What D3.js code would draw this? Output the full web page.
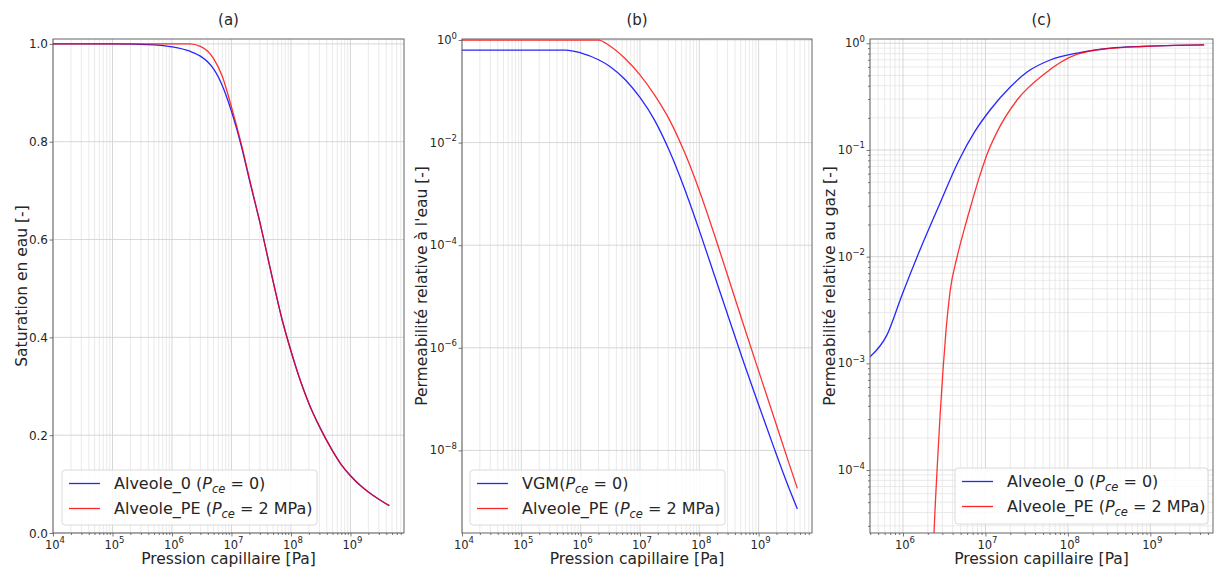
<!DOCTYPE html>
<html><head><meta charset="utf-8">
<script src="https://cdn.jsdelivr.net/npm/d3@7"></script>
<style>
body{margin:0;background:#fff}
svg{display:block}
text{font-family:"DejaVu Sans",sans-serif;fill:#262626}
</style>
</head><body>
<svg id="chart" width="1220" height="568"></svg>
<script>
// ---------------- DATA ----------------
// Panel (a): water saturation vs capillary pressure
const pressureA = [1e4, 1e5, 5e5, 1e6, 2e6, 3e6, 4e6, 5e6, 7e6, 1e7, 1.5e7, 2e7, 3e7, 5e7, 7e7, 1e8, 1.5e8, 2e8, 3e8, 5e8, 7e8, 1e9, 1.5e9, 2e9, 3e9, 4.5e9];
const satAlveole0 = [1.000, 1.000, 0.998, 0.994, 0.985, 0.975, 0.963, 0.949, 0.915, 0.862, 0.786, 0.722, 0.635, 0.515, 0.439, 0.372, 0.305, 0.265, 0.218, 0.168, 0.140, 0.117, 0.096, 0.084, 0.069, 0.056];
const satAlveolePE = [1.000, 1.000, 1.000, 1.000, 1.000, 0.995, 0.985, 0.970, 0.934, 0.871, 0.790, 0.725, 0.636, 0.515, 0.439, 0.372, 0.305, 0.265, 0.218, 0.168, 0.140, 0.117, 0.096, 0.084, 0.069, 0.056];

// Panel (b): relative permeability to water
const pressureB = [1e4, 1e5, 5.6e5, 1e6, 2e6, 3.16e6, 5.6e6, 1e7, 1.78e7, 3.16e7, 5.6e7, 1e8, 1.78e8, 3.16e8, 5.6e8, 1e9, 1.78e9, 3.16e9, 4.5e9];
const krwVGM = [0.638, 0.638, 0.638, 0.562, 0.412, 0.302, 0.170, 0.0759, 0.0269, 6.76e-3, 1.29e-3, 1.95e-4, 2.69e-5, 3.72e-6, 5.25e-7, 7.76e-8, 1.20e-8, 2.0e-9, 7.24e-10];
const krwAlveolePE = [1, 1, 1, 1, 1, 0.759, 0.437, 0.209, 0.0832, 0.0275, 6.61e-3, 1.17e-3, 1.66e-4, 2.14e-5, 2.75e-6, 3.55e-7, 4.68e-8, 6.17e-9, 1.82e-9];

// Panel (c): relative permeability to gas
const pressureC0 = [3.98e5, 6.4e5, 9.73e5, 1.61e6, 2.82e6, 4.66e6, 7.48e6, 1.14e7, 2.0e7, 3.2e7, 6.1e7, 1.3e8, 3.26e8, 8.2e8, 2e9, 4.5e9];
const krgAlveole0 = [1.15e-3, 1.85e-3, 4.38e-3, 1.16e-2, 3.18e-2, 7.72e-2, 0.150, 0.237, 0.389, 0.538, 0.697, 0.810, 0.900, 0.935, 0.955, 0.965];
const pressureCPE = [2.1e6, 2.38e6, 2.59e6, 2.82e6, 3.06e6, 3.33e6, 3.72e6, 4.53e6, 5.51e6, 6.70e6, 8.38e6, 1.05e7, 1.38e7, 2.42e7, 5.0e7, 1.3e8, 3.26e8, 8.2e8, 2e9, 4.5e9];
const krgAlveolePE = [1e-6, 2.57e-5, 1.0e-4, 3.29e-4, 8.7e-4, 2.06e-3, 4.68e-3, 9.93e-3, 1.78e-2, 3.05e-2, 5.47e-2, 9.18e-2, 0.147, 0.294, 0.505, 0.790, 0.895, 0.933, 0.955, 0.965];

// Tick labels
const xTickExpAB = [4, 5, 6, 7, 8, 9];
const xTickExpC = [6, 7, 8, 9];
const satTicks = [0.0, 0.2, 0.4, 0.6, 0.8, 1.0];
const krwTickExp = [0, -2, -4, -6, -8];
const krgTickExp = [0, -1, -2, -3, -4];

// Texts
const titles = ["(a)", "(b)", "(c)"];
const xLabel = "Pression capillaire [Pa]";
const yLabels = ["Saturation en eau [-]", "Permeabilité relative à l'eau [-]", "Permeabilité relative au gaz [-]"];

// ---------------- LAYOUT ----------------
const TOP = 39, BOTTOM = 533;
const BLUE = "#0000ff", RED = "#ff0000";
const svg = d3.select("#chart");

function minorLog(domain) {
  const out = [];
  const e0 = Math.floor(Math.log10(domain[0])), e1 = Math.ceil(Math.log10(domain[1]));
  for (let e = e0; e <= e1; e++) for (let m = 1; m <= 9; m++) {
    const v = m * Math.pow(10, e);
    if (v >= domain[0] && v <= domain[1]) out.push(v);
  }
  return out;
}

function powText(sel, exp) {
  sel.append("tspan").text("10");
  sel.append("tspan").attr("dy", -5.5).attr("font-size", 8.5).text(exp < 0 ? "\u2212" + (-exp) : String(exp));
}

function legendText(t, prefix, value) {
  t.append("tspan").text(prefix);
  t.append("tspan").attr("font-style", "italic").text("P");
  t.append("tspan").attr("font-style", "italic").attr("font-size", 11.5).attr("dy", 4).text("ce");
  t.append("tspan").attr("dy", -4).text(" = " + value + ")");
}

const panels = [
  {left: 53, right: 404, xDomain: [1e4, Math.pow(10, 9.9)], xTicks: xTickExpAB,
   yLog: false, yDomain: [0, 1.01], yTicks: satTicks, yMinor: false, yLabelX: 21,
   series: [{x: pressureA, y: satAlveole0, color: BLUE}, {x: pressureA, y: satAlveolePE, color: RED}],
   legend: {x: 62, y: 470, w: 255, h: 55, items: [["Alveole_0 (", "0"], ["Alveole_PE (", "2 MPa"]]}},
  {left: 462, right: 812, xDomain: [1e4, Math.pow(10, 9.9)], xTicks: xTickExpAB,
   yLog: true, yDomain: [Math.pow(10, -9.61), Math.pow(10, 0.02)], yTicks: krwTickExp, yMinor: false, yLabelX: 421,
   series: [{x: pressureB, y: krwVGM, color: BLUE}, {x: pressureB, y: krwAlveolePE, color: RED}],
   legend: {x: 470, y: 470, w: 255, h: 55, items: [["VGM(", "0"], ["Alveole_PE (", "2 MPa"]]}},
  {left: 870, right: 1213, xDomain: [Math.pow(10, 5.6), Math.pow(10, 9.76)], xTicks: xTickExpC,
   yLog: true, yDomain: [Math.pow(10, -4.59), Math.pow(10, 0.04)], yTicks: krgTickExp, yMinor: true, yLabelX: 829,
   series: [{x: pressureC0, y: krgAlveole0, color: BLUE}, {x: pressureCPE, y: krgAlveolePE, color: RED}],
   legend: {x: 955, y: 468, w: 253, h: 56, items: [["Alveole_0 (", "0"], ["Alveole_PE (", "2 MPa"]]}}
];

panels.forEach((p, i) => {
  const g = svg.append("g");
  const x = d3.scaleLog().domain(p.xDomain).range([p.left, p.right]);
  const y = (p.yLog ? d3.scaleLog() : d3.scaleLinear()).domain(p.yDomain).range([BOTTOM, TOP]);
  const isDecade = v => Math.abs(Math.log10(v) - Math.round(Math.log10(v))) < 1e-9;
  const xMinor = minorLog(p.xDomain).filter(v => !isDecade(v));
  const xDecades = minorLog(p.xDomain).filter(isDecade);
  const yMajor = p.yLog ? p.yTicks.map(e => Math.pow(10, e)) : p.yTicks;
  const yMinor = p.yMinor ? minorLog(p.yDomain).filter(v => !isDecade(v)) : [];

  // grid
  const grid = g.append("g");
  grid.selectAll(".xm").data(xMinor).join("line")
    .attr("x1", d => x(d)).attr("x2", d => x(d)).attr("y1", TOP).attr("y2", BOTTOM)
    .attr("stroke", "#e4e4e4").attr("stroke-width", 0.8);
  grid.selectAll(".ym").data(yMinor).join("line")
    .attr("x1", p.left).attr("x2", p.right).attr("y1", d => y(d)).attr("y2", d => y(d))
    .attr("stroke", "#e4e4e4").attr("stroke-width", 0.8);
  grid.selectAll(".xM").data(xDecades).join("line")
    .attr("x1", d => x(d)).attr("x2", d => x(d)).attr("y1", TOP).attr("y2", BOTTOM)
    .attr("stroke", "#d2d2d2").attr("stroke-width", 0.9);
  grid.selectAll(".yM").data(yMajor).join("line")
    .attr("x1", p.left).attr("x2", p.right).attr("y1", d => y(d)).attr("y2", d => y(d))
    .attr("stroke", "#d2d2d2").attr("stroke-width", 0.9);

  // clip
  const cid = "clip" + i;
  svg.append("defs").append("clipPath").attr("id", cid).append("rect")
    .attr("x", p.left).attr("y", TOP).attr("width", p.right - p.left).attr("height", BOTTOM - TOP);

  // lines
  const line = d3.line().curve(d3.curveMonotoneX);
  p.series.forEach(s => {
    const pts = s.x.map((xv, k) => [x(xv), y(s.y[k])]);
    g.append("path").attr("clip-path", `url(#${cid})`).attr("d", line(pts))
      .attr("fill", "none").attr("stroke", s.color).attr("stroke-width", 1.3)
      .attr("stroke-opacity", s.color === RED ? 0.8 : 0.85);
  });

  // frame
  g.append("rect").attr("x", p.left).attr("y", TOP).attr("width", p.right - p.left).attr("height", BOTTOM - TOP)
    .attr("fill", "none").attr("stroke", "#555").attr("stroke-width", 0.9);

  // x axis ticks
  const xAxisMinor = d3.axisBottom(x).tickValues(xMinor).tickSize(2).tickFormat("");
  const xAxisMajor = d3.axisBottom(x).tickValues(xDecades).tickSize(3.5).tickFormat("");
  [xAxisMinor, xAxisMajor].forEach(ax => {
    const a = g.append("g").attr("transform", `translate(0,${BOTTOM})`).call(ax);
    a.select(".domain").remove();
    a.selectAll("line").attr("stroke", "#555").attr("stroke-width", 0.8);
  });
  g.selectAll(".xtl").data(p.xTicks).join("text")
    .attr("x", d => x(Math.pow(10, d)) + 2).attr("y", BOTTOM + 15.5).attr("text-anchor", "middle").attr("font-size", 11.5)
    .each(function(d) { powText(d3.select(this), d); });

  // y axis ticks
  if (p.yMinor) {
    const ayM = g.append("g").attr("transform", `translate(${p.left},0)`).call(d3.axisLeft(y).tickValues(yMinor).tickSize(2).tickFormat(""));
    ayM.select(".domain").remove();
    ayM.selectAll("line").attr("stroke", "#555").attr("stroke-width", 0.8);
  }
  const ay = g.append("g").attr("transform", `translate(${p.left},0)`).call(d3.axisLeft(y).tickValues(yMajor).tickSize(3.5).tickFormat(""));
  ay.select(".domain").remove();
  ay.selectAll("line").attr("stroke", "#555").attr("stroke-width", 0.8);
  if (p.yLog) {
    g.selectAll(".ytl").data(p.yTicks).join("text")
      .attr("x", p.left - 5).attr("y", d => y(Math.pow(10, d)) + 4).attr("text-anchor", "end").attr("font-size", 11.5)
      .each(function(d) { powText(d3.select(this), d); });
  } else {
    g.selectAll(".ytl").data(p.yTicks).join("text")
      .attr("x", p.left - 5).attr("y", d => y(d) + 4.5).attr("text-anchor", "end").attr("font-size", 12)
      .text(d => d.toFixed(1));
  }

  // labels
  const cx = (p.left + p.right) / 2;
  g.append("text").attr("x", cx).attr("y", 25).attr("text-anchor", "middle").attr("font-size", 15).text(titles[i]);
  g.append("text").attr("x", cx).attr("y", 564).attr("text-anchor", "middle").attr("font-size", 15.5).text(xLabel);
  g.append("text").attr("transform", `translate(${p.yLabelX + 5.5},${(TOP + BOTTOM) / 2}) rotate(-90)`)
    .attr("text-anchor", "middle").attr("font-size", 15.5).text(yLabels[i]);

  // legend
  const L = p.legend;
  const lg = g.append("g");
  lg.append("rect").attr("x", L.x).attr("y", L.y).attr("width", L.w).attr("height", L.h).attr("rx", 3)
    .attr("fill", "#fff").attr("fill-opacity", 0.85).attr("stroke", "#d6d6d6").attr("stroke-width", 0.9);
  L.items.forEach((it, k) => {
    const ry = L.y + 13.5 + k * 25;
    lg.append("line").attr("x1", L.x + 7).attr("x2", L.x + 38).attr("y1", ry).attr("y2", ry)
      .attr("stroke", p.series[k].color).attr("stroke-width", 1.3).attr("stroke-opacity", 0.85);
    const t = lg.append("text").attr("x", L.x + 52).attr("y", ry + 5.5).attr("font-size", 16);
    legendText(t, it[0], it[1]);
  });
});
</script>
</body></html>
